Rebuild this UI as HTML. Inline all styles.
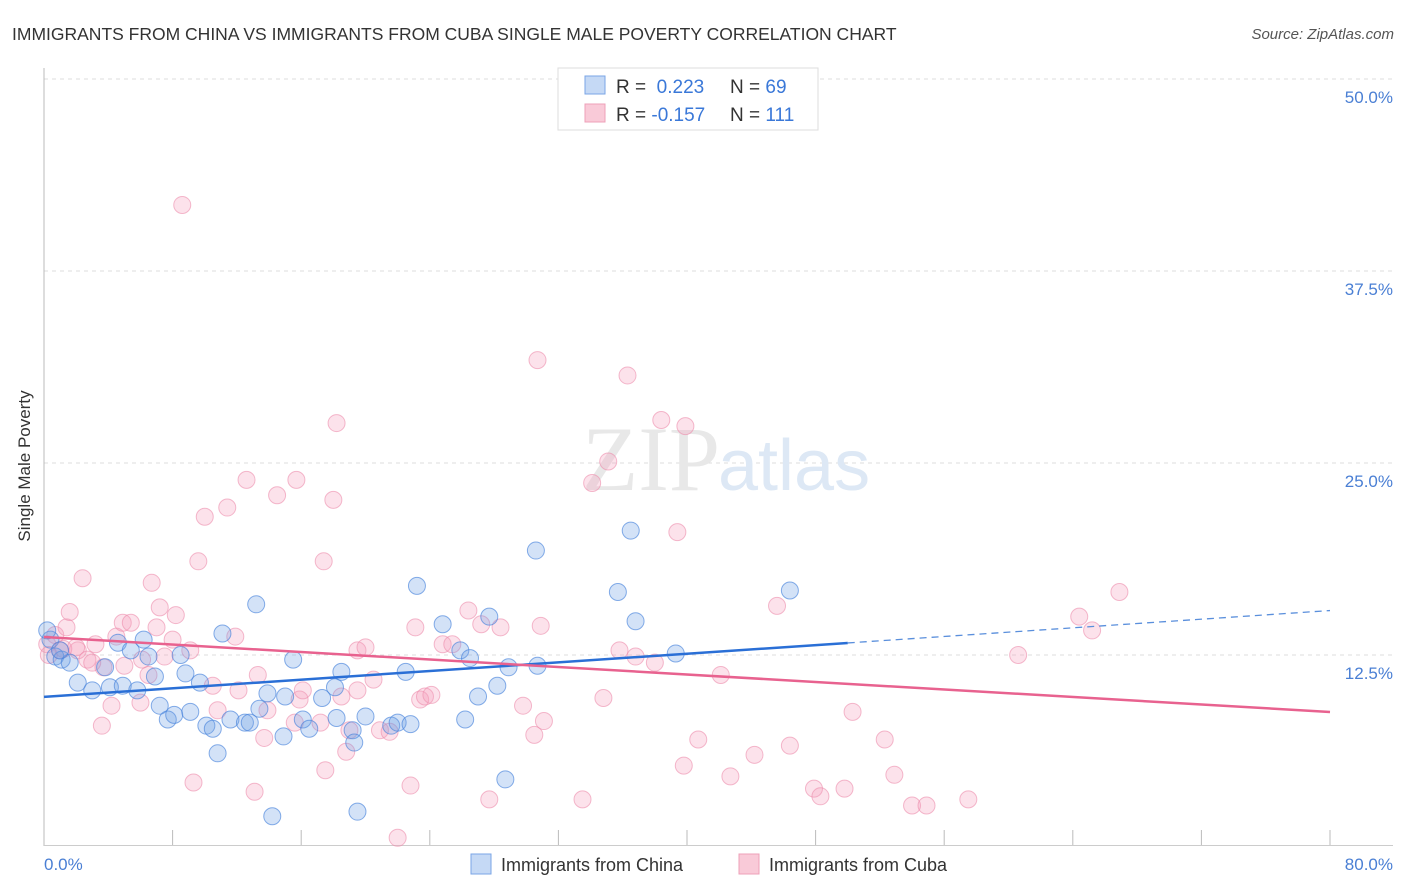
<!DOCTYPE html>
<html><head><meta charset="utf-8">
<style>
body{margin:0;background:#fff;font-family:"Liberation Sans",sans-serif;}
svg{display:block}
</style></head><body>
<svg width="1406" height="892" id="chart">
<text x="12" y="40" font-size="17.5" fill="#333">IMMIGRANTS FROM CHINA VS IMMIGRANTS FROM CUBA SINGLE MALE POVERTY CORRELATION CHART</text>
<text x="1394" y="39" font-size="15" fill="#555" font-style="italic" text-anchor="end">Source: ZipAtlas.com</text>
<g id="grid"></g>
<text x="720" y="490" font-size="92" font-family="Liberation Serif,serif" fill="#e8e8e8" text-anchor="end">ZIP</text>
<text x="718" y="490" font-size="72" fill="#dde8f5">atlas</text>
<line x1="44" y1="68" x2="44" y2="846" stroke="#bbb"/>
<line x1="44" y1="845.5" x2="1393" y2="845.5" stroke="#ccc"/>
<g id="ticks"></g>
<g id="pts"></g>
<g id="trend"></g>
<text x="20" y="456" font-size="17" fill="#333" transform="rotate(-90 30 456)" text-anchor="middle">Single Male Poverty</text>
<text x="44" y="870" font-size="17" fill="#4a7fd4">0.0%</text>
<text x="1393" y="870" font-size="17" fill="#4a7fd4" text-anchor="end">80.0%</text>
<g>
<rect x="558" y="68" width="260" height="62" fill="#fff" stroke="#ddd"/>
<rect x="585" y="76" width="20" height="18" fill="#c5d9f5" stroke="#7aa5e6"/>
<rect x="585" y="104" width="20" height="18" fill="#f9cad8" stroke="#eea0b8"/>
<text x="616" y="93" font-size="19" fill="#333">R = <tspan fill="#3a78d8">&#160;0.223</tspan><tspan x="730">N = </tspan><tspan fill="#3a78d8">69</tspan></text>
<text x="616" y="121" font-size="19" fill="#333">R = <tspan fill="#3a78d8">-0.157</tspan><tspan x="730">N = </tspan><tspan fill="#3a78d8">111</tspan></text>
</g>
<g>
<rect x="471" y="854" width="20" height="20" fill="#c5d9f5" stroke="#7aa5e6"/>
<text x="501" y="871" font-size="18" fill="#333">Immigrants from China</text>
<rect x="739" y="854" width="20" height="20" fill="#f9cad8" stroke="#eea0b8"/>
<text x="769" y="871" font-size="18" fill="#333">Immigrants from Cuba</text>
</g>
</svg>
<script>
const yTicks=[12.5,25.0,37.5,50.0];
const xTickVals=[0,8,16,24,32,40,48,56,64,72,80];
const chinaX=[0.4,0.7,1.1,1.6,2.1,3.0,3.8,4.1,4.6,4.9,5.4,5.8,6.2,6.5,6.9,7.2,7.7,8.1,8.5,8.8,9.1,9.7,10.1,10.5,10.8,11.1,11.6,12.5,12.8,13.2,13.4,13.9,14.9,15.0,15.5,16.1,16.5,17.3,18.1,18.2,18.5,19.2,19.3,19.5,20.0,21.6,22.0,22.5,22.8,23.2,24.8,25.9,26.2,26.5,27.0,27.7,28.2,28.7,28.9,30.6,30.7,35.7,36.5,36.8,39.3,46.4,14.2,1.0,0.2];
const chinaY=[13.5,12.4,12.2,12.0,10.7,10.2,11.7,10.4,13.3,10.5,12.8,10.2,13.5,12.4,11.1,9.2,8.3,8.6,12.5,11.3,8.8,10.7,7.9,7.7,6.1,13.9,8.3,8.1,8.1,15.8,9.0,10.0,7.2,9.8,12.2,8.3,7.7,9.7,10.4,8.4,11.4,7.6,6.8,2.3,8.5,7.9,8.1,11.4,8.0,17.0,14.5,12.8,8.3,12.3,9.8,15.0,10.5,4.4,11.7,19.3,11.8,16.6,20.6,14.7,12.6,16.7,2.0,12.8,14.1];
const cubaX=[0.2,0.7,1.0,1.4,1.6,2.1,2.4,2.7,3.2,3.6,3.7,4.2,4.5,4.9,5.0,5.4,6.0,6.1,6.5,6.7,7.0,7.2,7.5,8.0,8.2,8.6,9.1,9.3,9.6,10.0,10.5,10.8,11.4,11.9,12.1,12.6,13.1,13.3,13.7,13.9,14.5,15.7,15.6,15.9,16.1,17.2,17.4,17.5,18.2,18.0,18.5,18.8,19.0,19.5,19.5,20.0,20.5,20.9,21.5,22.0,22.8,23.1,23.4,23.7,24.1,24.8,25.4,26.4,27.2,27.7,28.4,29.8,30.7,30.9,31.1,30.5,33.5,34.1,34.8,35.1,35.8,36.3,36.8,38.0,38.4,39.4,39.8,39.9,40.7,42.1,42.7,44.2,45.6,46.4,47.9,48.3,49.8,50.3,52.3,52.9,54.0,54.9,57.5,60.6,64.4,65.2,66.9,0.3,1.2,2.0,3.0];
const cubaY=[13.2,13.8,12.8,14.3,15.3,12.8,17.5,12.2,13.2,7.9,11.7,9.2,13.7,14.6,11.8,14.6,9.4,12.2,11.2,17.2,14.3,15.6,12.4,13.5,15.1,41.8,12.8,4.2,18.6,21.5,10.5,8.9,22.1,13.7,10.2,23.9,3.6,11.2,7.1,8.9,22.9,23.9,8.1,9.6,10.2,8.1,18.6,5.0,27.6,22.6,9.8,6.2,7.6,10.2,12.8,13.0,10.9,7.6,7.5,0.6,4.0,14.3,9.6,9.8,9.9,13.2,13.2,15.4,14.5,3.1,14.3,9.2,31.7,14.4,8.2,7.3,3.1,23.7,9.7,25.1,12.8,30.7,12.4,12.0,27.8,20.5,5.3,27.4,7.0,11.2,4.6,6.0,15.7,6.6,3.8,3.3,3.8,8.8,7.0,4.7,2.7,2.7,3.1,12.5,15.0,14.1,16.6,12.5,12.9,13.0,12.0];
const chinaTrend=[9.77,0.0703];
const cubaTrend=[13.67,-0.061];
const chinaSolidEnd=50;

const X0=44,X1=1330,Y0=847,PXPER=768/50;
const sx=v=>X0+(v/80)*(X1-X0);
const sy=v=>Y0-v*PXPER;
const NS='http://www.w3.org/2000/svg';
function mk(tag,attrs,parent){const e=document.createElementNS(NS,tag);for(const k in attrs)e.setAttribute(k,attrs[k]);parent.appendChild(e);return e;}
const grid=document.getElementById('grid');
yTicks.forEach(t=>{
  const l=mk('line',{x1:44,x2:1393,y1:sy(t),y2:sy(t),stroke:'#ddd','stroke-dasharray':'4,4'},grid);
  
  
  const tx=mk('text',{x:1393,y:sy(t)+24,'font-size':17,fill:'#4a7fd4','text-anchor':'end'},grid);
  tx.textContent=t.toFixed(1)+'%';
  
  
});
const ticks=document.getElementById('ticks');
xTickVals.forEach(t=>{
  const l=mk('line',{x1:sx(t),x2:sx(t),y1:830,y2:845,stroke:'#bbb'},ticks);
  
  
});
const pts=document.getElementById('pts');
cubaX.forEach((x,i)=>{
  const c=mk('circle',{cx:sx(x),cy:sy(cubaY[i]),r:8.5,fill:'rgba(244,160,188,0.3)',stroke:'rgba(236,140,172,0.6)','stroke-width':1},pts);
  
  
});
chinaX.forEach((x,i)=>{
  const c=mk('circle',{cx:sx(x),cy:sy(chinaY[i]),r:8.5,fill:'rgba(110,160,230,0.3)',stroke:'rgba(70,130,220,0.65)','stroke-width':1},pts);
  
  
});
const tr=document.getElementById('trend');
const yc=x=>chinaTrend[0]+chinaTrend[1]*x;
const yp=x=>cubaTrend[0]+cubaTrend[1]*x;
let l1=mk('line',{x1:sx(0),y1:sy(yc(0)),x2:sx(chinaSolidEnd),y2:sy(yc(chinaSolidEnd)),stroke:'#2a6fd6','stroke-width':2.5},tr);


let l2=mk('line',{x1:sx(chinaSolidEnd),y1:sy(yc(chinaSolidEnd)),x2:sx(80),y2:sy(yc(80)),stroke:'#5a8fdc','stroke-width':1.3,'stroke-dasharray':'7,5'},tr);


let l3=mk('line',{x1:sx(0),y1:sy(yp(0)),x2:sx(80),y2:sy(yp(80)),stroke:'#e8628f','stroke-width':2.5},tr);


</script>
</body></html>
